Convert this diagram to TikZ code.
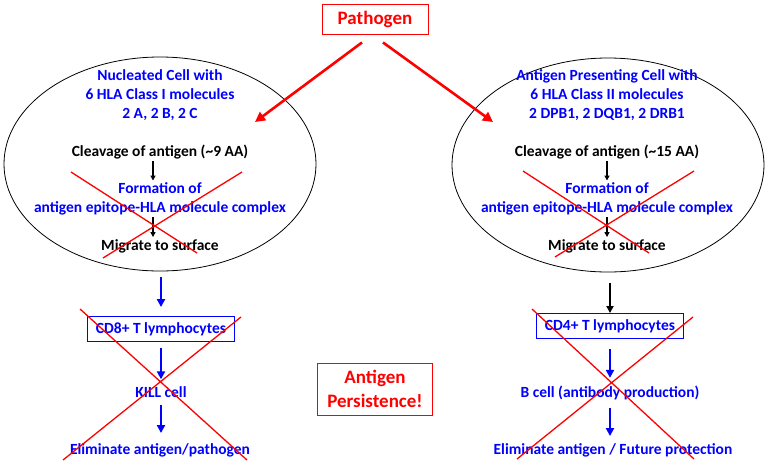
\documentclass[tikz,border=0pt]{standalone}
\usepackage{fontspec}
\setmainfont{Carlito}
\usetikzlibrary{arrows.meta,positioning,shapes.geometric}
\definecolor{hlablue}{RGB}{0,0,255}
\definecolor{alarmred}{RGB}{255,0,0}

\begin{document}
\begin{tikzpicture}[
  x=1pt, y=-1pt,
  every node/.style={font=\fontsize{15.5}{19}\selectfont\bfseries, align=center, inner sep=2pt},
  bl/.style={text=hlablue},
  cell/.style={ellipse, draw, line width=0.8pt, minimum width=312pt, minimum height=214pt},
  alarm/.style={draw=alarmred, line width=0.9pt, text=alarmred, font=\fontsize{19}{24}\selectfont\bfseries},
  tbox/.style={draw=hlablue, line width=0.9pt, text=hlablue, minimum width=147pt, minimum height=25pt, inner sep=0pt},
  flow/.style={draw=hlablue, line width=2.4pt, -{Triangle[length=8pt,width=8pt]}},
  inner/.style={draw=black, line width=1.4pt, -{Triangle[length=5pt,width=5pt]}},
  hit/.style={draw=alarmred, line width=2.6pt, -{Triangle[length=10pt,width=10pt]}},
  cross/.style={draw=alarmred, line width=1.3pt}
]
  \useasboundingbox (0,0) rectangle (769,464);

  \node[alarm, minimum width=106pt, minimum height=30pt] (pathogen) at (375,19) {Pathogen};

  \node[cell] (cellL) at (160,164) {};
  \node[cell] (cellR) at (608,165) {};

  \node[bl] (headL) at (160,95) {Nucleated Cell with\\6 HLA Class I molecules\\2 A, 2 B, 2 C};
  \node (cleavL) at (160,152) {Cleavage of antigen (\textasciitilde 9 AA)};
  \node[bl] (formL) at (160,199) {Formation of\\antigen epitope-HLA molecule complex};
  \node (migL) at (160,246) {Migrate to surface};

  \node[bl] (headR) at (607,95) {Antigen Presenting Cell with\\6 HLA Class II molecules\\2 DPB1, 2 DQB1, 2 DRB1};
  \node (cleavR) at (607,152) {Cleavage of antigen (\textasciitilde 15 AA)};
  \node[bl] (formR) at (607,199) {Formation of\\antigen epitope-HLA molecule complex};
  \node (migR) at (607,246) {Migrate to surface};

  \node[tbox] (cd8) at (161,329) {CD8+ T lymphocytes};
  \node[bl] (kill) at (161,392) {KILL cell};
  \node[bl] (elimL) at (160,450) {Eliminate antigen/pathogen};

  \node[tbox] (cd4) at (610,326) {CD4+ T lymphocytes};
  \node[bl] (bcell) at (610,393) {B cell (antibody production)};
  \node[bl] (elimR) at (613,450) {Eliminate antigen / Future protection};

  \node[alarm, minimum width=115pt, minimum height=52pt] (persist) at (375,389) {Antigen\\Persistence!};

  \coordinate (hitL) at (255,122);
  \coordinate (hitR) at (493,122);

  \draw[hit] ([xshift=-13pt,yshift=-8pt]pathogen.south) -- (hitL);
  \draw[hit] ([xshift=8pt,yshift=-8pt]pathogen.south) -- (hitR);

  \draw[inner] ([xshift=-7pt]cleavL.south) -- ([xshift=-7pt]formL.north);
  \draw[inner] ([xshift=-7pt]formL.south) -- ([xshift=-7pt]migL.north);
  \draw[inner] (cleavR) -- (formR);
  \draw[inner] (formR) -- (migR);

  \draw[flow, shorten <=6pt, shorten >=9pt] (cellL.south -| cd8) -- (cd8.north);
  \draw[flow, shorten <=6pt, shorten >=5pt] (cd8.south) -- (kill.north);
  \draw[flow, shorten <=5pt, shorten >=8pt] (kill.south) -- (elimL.north -| kill);

  \draw[inner, line width=1.8pt, -{Triangle[length=7pt,width=7pt]}, shorten <=11pt] (cellR.south -| cd4) -- (cd4.north);
  \draw[flow, shorten <=10pt, shorten >=6pt] (cd4.south) -- (bcell.north);
  \draw[flow, shorten <=6pt, shorten >=5pt] (bcell.south) -- (elimR.north -| bcell);

  \draw[cross] (71,172) -- (197,253) (242,172) -- (103,258);
  \draw[cross] (523,171) -- (649,253) (694,171) -- (555,257);
  \draw[cross] (80,309) -- (247,460) (241,317) -- (63,460);
  \draw[cross] (532,309) -- (694,459) (693,317) -- (517,459);
\end{tikzpicture}
\end{document}
